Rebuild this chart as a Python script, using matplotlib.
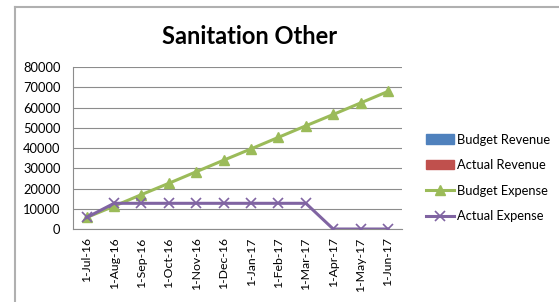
import matplotlib
matplotlib.use('Agg')
import matplotlib.pyplot as plt
from matplotlib.lines import Line2D
from matplotlib.patches import Patch

months = ['1-Jul-16', '1-Aug-16', '1-Sep-16', '1-Oct-16', '1-Nov-16', '1-Dec-16',
          '1-Jan-17', '1-Feb-17', '1-Mar-17', '1-Apr-17', '1-May-17', '1-Jun-17']
budget_expense = [5700, 11300, 17000, 22600, 28300, 34000,
                  39600, 45300, 51000, 56600, 62300, 68000]
actual_expense = [5700, 12700, 12700, 12700, 12700, 12700,
                  12700, 12700, 12700, 0, 0, 0]
yticks = [0, 10000, 20000, 30000, 40000, 50000, 60000, 70000, 80000]

plt.rcParams['font.family'] = ['Lato', 'DejaVu Sans']

fig = plt.figure(figsize=(5.59, 3.02), dpi=100)
ax = fig.add_axes([0.1306, 0.2417, 0.588, 0.536])

x = list(range(len(months)))
ax.plot(x, budget_expense, color='#9BBB59', lw=2.2, marker='^', ms=6.5,
        label='Budget Expense', zorder=3)
ax.plot(x, actual_expense, color='#8064A2', lw=2.2, marker='x', ms=7, mew=1.2,
        label='Actual Expense', zorder=4)

ax.set_xlim(-0.5, len(months) - 0.5)
ax.set_ylim(0, 80000)
ax.set_yticks(yticks)
ax.set_yticklabels([str(v) for v in yticks])
ax.set_xticks(x)
ax.set_xticklabels(months, rotation=90)
ax.grid(axis='y', color='#8c8c8c', lw=0.8)
ax.set_axisbelow(True)
for s in ['top', 'right']:
    ax.spines[s].set_visible(False)
for s in ['left', 'bottom']:
    ax.spines[s].set_color('#8c8c8c')
ax.tick_params(axis='both', length=0, labelsize=9.3)
ax.tick_params(axis='x', labelsize=8.8)
ax.tick_params(axis='y', pad=9)
ax.tick_params(axis='x', pad=6)

fig.text(0.447, 0.88, 'Sanitation Other', ha='center', va='center',
         fontsize=17, fontweight='bold')

handles = [Patch(color='#4F81BD', label='Budget Revenue'),
           Patch(color='#C0504D', label='Actual Revenue'),
           Line2D([], [], color='#9BBB59', lw=2.2, marker='^', ms=6.5, label='Budget Expense'),
           Line2D([], [], color='#8064A2', lw=2.2, marker='x', ms=7, mew=1.2, label='Actual Expense')]
fig.legend(handles=handles, loc='upper left', bbox_to_anchor=(0.752, 0.575),
           frameon=False, fontsize=9.3, handlelength=2.2, handleheight=0.75,
           handletextpad=0.2, labelspacing=1.05, borderaxespad=0)

# chart frame (only top and left edges visible)
fig.add_artist(Line2D([15 / 559, 15 / 559], [0, 1 - 7 / 302], transform=fig.transFigure,
                      color='#b0b0b0', lw=1.5))
fig.add_artist(Line2D([15 / 559, 1], [1 - 7 / 302, 1 - 7 / 302], transform=fig.transFigure,
                      color='#b0b0b0', lw=1.5))

fig.savefig('out.png', dpi=100)
